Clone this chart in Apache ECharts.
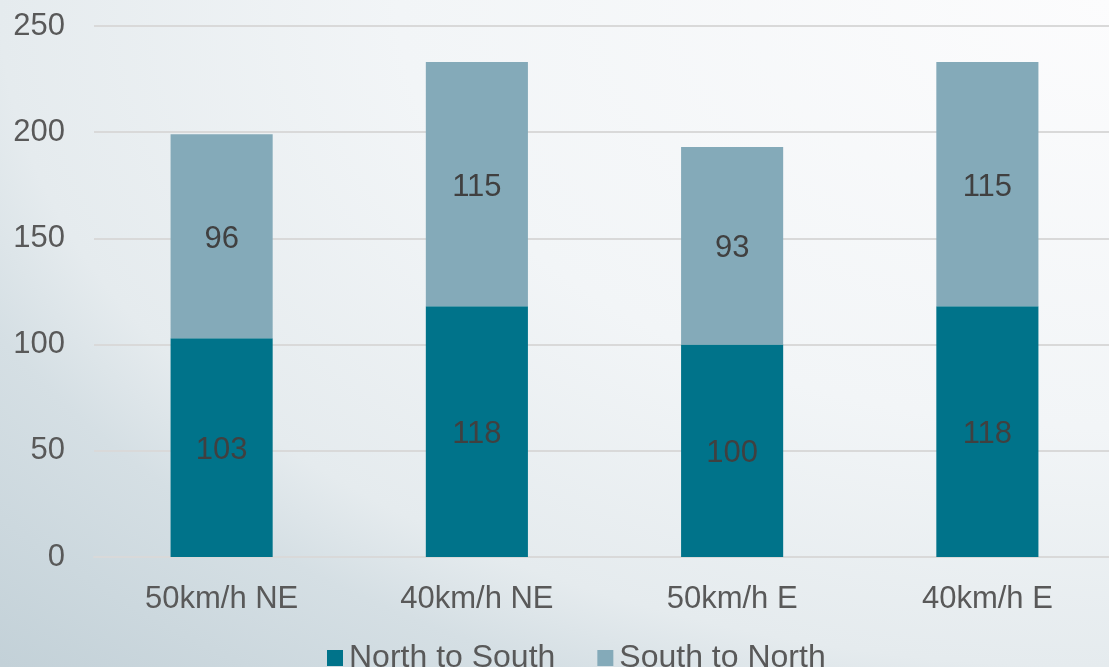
<!DOCTYPE html>
<html>
<head>
<meta charset="utf-8">
<script src="https://cdn.jsdelivr.net/npm/echarts@6/dist/echarts.min.js"></script>
<style>
  html, body { margin: 0; padding: 0; }
  #chart {
    width: 1109px;
    height: 667px;
    /* soft slide-style backdrop: bright towards the top right, darker bottom left */
    background: radial-gradient(ellipse 1109px 667px at 100% 0%,
      #fcfcfd 0%, #f2f5f7 64%, #e5ebee 100%, #d5dfe4 112%, #c3d1d8 141%);
  }
</style>
</head>
<body>
<div id="chart"></div>
<script>
// Traffic counts per speed limit / direction scenario
const categories = ['50km/h NE', '40km/h NE', '50km/h E', '40km/h E'];
const northToSouth = [103, 118, 100, 118];
const southToNorth = [96, 115, 93, 115];
const seriesNames = ['North to South', 'South to North'];
const yTicks = { min: 0, max: 250, interval: 50 };

const FONT = '"Liberation Sans", Arial, sans-serif';
const chart = echarts.init(document.getElementById('chart'));

const valueLabel = {
  show: true,
  position: 'inside',
  offset: [0, 3],
  color: '#404040',
  fontFamily: FONT,
  fontSize: 31
};

chart.setOption({
  backgroundColor: 'transparent',
  animation: false,
  grid: { left: 94, right: -6, top: 26, bottom: 110, outerBoundsMode: 'none' },
  legend: {
    left: 322,
    top: 637,
    itemWidth: 16,
    itemHeight: 16,
    itemGap: 42,
    icon: 'rect',
    textStyle: { color: '#595959', fontFamily: FONT, fontSize: 32, padding: [0, 0, 0, 1] },
    data: seriesNames
  },
  xAxis: {
    type: 'category',
    data: categories,
    axisLine: { lineStyle: { color: '#d9d9d9', width: 2 } },
    axisTick: { show: false },
    axisLabel: { color: '#595959', fontFamily: FONT, fontSize: 31, margin: 27 }
  },
  yAxis: {
    type: 'value',
    min: yTicks.min,
    max: yTicks.max,
    interval: yTicks.interval,
    axisLine: { show: false },
    axisTick: { show: false },
    splitLine: { lineStyle: { color: '#d9d9d9', width: 2 } },
    axisLabel: { color: '#595959', fontFamily: FONT, fontSize: 31, margin: 29 }
  },
  series: [
    {
      name: seriesNames[0],
      type: 'bar',
      stack: 'total',
      barWidth: '40%',
      data: northToSouth,
      itemStyle: { color: '#00738a' },
      label: valueLabel
    },
    {
      name: seriesNames[1],
      type: 'bar',
      stack: 'total',
      barWidth: '40%',
      data: southToNorth,
      itemStyle: { color: '#84aab9' },
      label: valueLabel
    }
  ]
});
</script>
</body>
</html>
